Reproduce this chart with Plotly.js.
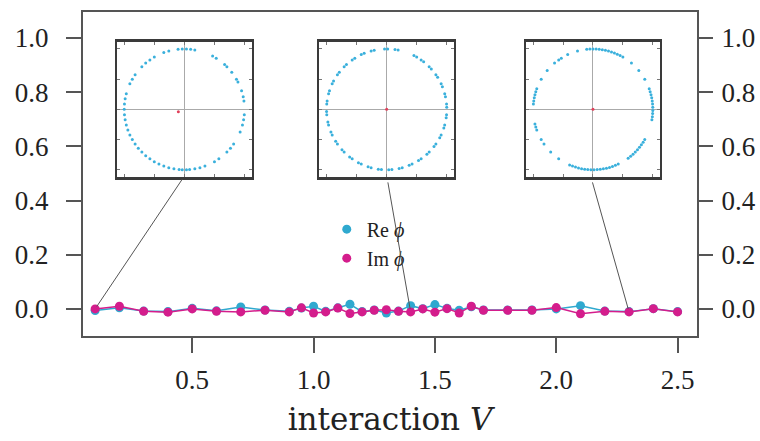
<!DOCTYPE html>
<html>
<head>
<meta charset="utf-8">
<script src="https://cdn.plot.ly/plotly-3.0.1.min.js"></script>
<style>html,body{margin:0;padding:0;background:#fff;}#chart{width:760px;height:441px;}</style>
</head>
<body>
<div id="chart"></div>
<script>
// ---- main series ----
const interactionV = [0.1,0.2,0.3,0.4,0.5,0.6,0.7,0.8,0.9,0.95,1.0,1.05,1.1,1.15,1.2,1.25,1.3,1.35,1.4,1.45,1.5,1.55,1.6,1.65,1.7,1.8,1.9,2.0,2.1,2.2,2.3,2.4,2.5];
const rePhi = [-0.006,0.004,-0.008,-0.010,0.002,-0.007,0.007,-0.004,-0.009,0.003,0.010,-0.009,0.004,0.017,-0.010,-0.004,-0.015,-0.008,0.012,0.001,0.016,0.002,-0.005,0.008,-0.004,-0.004,-0.004,0.000,0.012,-0.008,-0.010,0.001,-0.010];
const imPhi = [0.000,0.010,-0.009,-0.012,0.000,-0.009,-0.011,-0.005,-0.011,0.004,-0.015,-0.011,0.003,-0.017,-0.011,-0.005,-0.003,-0.009,-0.011,0.000,-0.012,0.001,-0.015,0.010,-0.005,-0.005,-0.005,0.005,-0.018,-0.009,-0.011,0.001,-0.011];
const yTicks = [0.0,0.2,0.4,0.6,0.8,1.0];
const yTickText = ["0.0","0.2","0.4","0.6","0.8","1.0"];
const xTicks = [0.5,1.0,1.5,2.0,2.5];
const xTickText = ["0.5","1.0","1.5","2.0","2.5"];

// ---- insets: phase angles (degrees) of the order parameter, and the mean value ----
const insetV = [0.1, 1.4, 2.3];
const insetAngles1 = [96,92,88,84,80,62,58,48,45,38,30,27,18,12,8,-5,-10,-15,-22,-35,-40,-45,-55,-60,-70,-75,-80,-85,-88,-92,-95,-100,-105,-110,-115,-120,-125,-130,-135,-140,-145,-150,-155,-160,-165,-170,-175,180,175,170,165,155,150,145,135,130,125,120,110,105];
const insetAngles2 = [92,89,82,79,63,60,55,52,45,42,35,32,25,22,15,12,5,2,-5,-8,-15,-18,-25,-28,-35,-38,-45,-48,-55,-58,-65,-68,-75,-78,-85,-88,-95,-98,-105,-108,-115,-118,-125,-128,-135,-138,-145,-148,-155,-158,-165,-168,-175,-178,175,172,165,162,155,152,145,142,135,132,125,122,115,112,105,102];
const insetAngles3 = [96,93,90,87,84,81,78,75,72,69,66,63,60,50,40,30,20,17,14,11,8,5,2,-1,-4,-7,-10,-30,-33,-36,-39,-42,-45,-48,-51,-54,-65,-68,-71,-74,-77,-80,-83,-86,-89,-92,-95,-98,-101,-104,-107,-110,-113,-125,-135,-145,-150,-160,-163,-166,175,172,169,166,163,160,150,140,130,125,122,115,105];
const insetMeanRe = [-0.10, 0.0, 0.0];
const insetMeanIm = [-0.04, 0.0, 0.0];

const cyan = '#2fa9cf';
const magenta = '#d41d8c';
const frame = '#555555';
const serif = 'Liberation Serif, Times New Roman, serif';
const wideSerif = 'DejaVu Serif, serif';

const deg = Math.PI/180;
const insetAngleSets = [insetAngles1, insetAngles2, insetAngles3];

const traces = [
  {x: interactionV, y: rePhi, mode: 'lines', line: {color: cyan, width: 1.5}, showlegend: false, hoverinfo: 'skip', xaxis: 'x', yaxis: 'y'},
  {x: interactionV, y: rePhi, mode: 'markers', marker: {color: cyan, size: 9}, name: 'Re <i>ϕ</i>', xaxis: 'x', yaxis: 'y'},
  {x: interactionV, y: imPhi, mode: 'lines', line: {color: magenta, width: 1.5}, showlegend: false, hoverinfo: 'skip', xaxis: 'x', yaxis: 'y'},
  {x: interactionV, y: imPhi, mode: 'markers', marker: {color: magenta, size: 9}, name: 'Im <i>ϕ</i>', xaxis: 'x', yaxis: 'y'},
  // invisible copy so the right-hand axis is drawn
  {x: interactionV, y: imPhi, mode: 'markers', marker: {opacity: 0}, showlegend: false, hoverinfo: 'skip', xaxis: 'x', yaxis: 'y2'}
];

insetAngleSets.forEach((angs, i) => {
  const n = i + 3;
  traces.push({
    x: angs.map(a => Math.cos(a*deg)), y: angs.map(a => Math.sin(a*deg)),
    mode: 'markers', marker: {color: '#3ab0dc', size: 3}, showlegend: false,
    xaxis: 'x' + n, yaxis: 'y' + n
  });
  traces.push({
    x: [insetMeanRe[i]], y: [insetMeanIm[i]], mode: 'markers',
    marker: {color: '#e0405a', size: 3}, showlegend: false,
    xaxis: 'x' + n, yaxis: 'y' + n
  });
});

const tickFont = {family: serif, size: 27, color: '#222'};

const layout = {
  width: 760, height: 441,
  margin: {l: 83, r: 63, t: 12, b: 105},
  paper_bgcolor: '#ffffff', plot_bgcolor: '#ffffff',
  font: {family: serif, color: '#222'},
  showlegend: true,
  legend: {x: 0.397, y: 0.39, xanchor: 'left', yanchor: 'top', bgcolor: 'rgba(0,0,0,0)',
           font: {family: serif, size: 20, color: '#222'}, itemwidth: 30},
  xaxis: {
    range: [0.05, 2.58], showgrid: false, zeroline: false,
    showline: true, mirror: true, linecolor: frame, linewidth: 2,
    ticks: 'outside', ticklen: 15, tickwidth: 2, tickcolor: frame, ticklabelstandoff: 4,
    tickvals: xTicks, ticktext: xTickText, tickfont: tickFont,
    title: {text: 'interaction <i>V</i>', font: {family: wideSerif, size: 31, color: '#222'}, standoff: 14}
  },
  yaxis: {
    range: [-0.1, 1.096], showgrid: false, zeroline: false,
    showline: true, mirror: true, linecolor: frame, linewidth: 2,
    ticks: 'outside', ticklen: 15, tickwidth: 2, tickcolor: frame, ticklabelstandoff: 12,
    tickvals: yTicks, ticktext: yTickText, tickfont: tickFont
  },
  yaxis2: {
    overlaying: 'y', side: 'right', anchor: 'x',
    range: [-0.1, 1.096], showgrid: false, zeroline: false, showline: false,
    ticks: 'outside', ticklen: 15, tickwidth: 2, tickcolor: frame, ticklabelstandoff: 3,
    tickvals: yTicks, ticktext: yTickText, tickfont: tickFont
  },
  annotations: []
};

const insetDomainsX = [[0.0554, 0.2748], [0.3849, 0.6042], [0.7215, 0.9397]];
const insetDomainY = [0.4907, 0.9083];
insetDomainsX.forEach((dx, i) => {
  const n = i + 3;
  const common = {
    range: [-1.12, 1.12], showgrid: false, zeroline: true, zerolinecolor: '#aaaaaa', zerolinewidth: 1,
    showline: true, mirror: 'ticks', linecolor: '#3a3a3a', linewidth: 2.5,
    ticks: 'inside', ticklen: 3, tickwidth: 1, tickcolor: '#777', tickvals: [-1, -0.5, 0, 0.5, 1],
    showticklabels: false, fixedrange: true
  };
  layout['xaxis' + n] = Object.assign({}, common, {domain: dx, anchor: 'y' + n});
  layout['yaxis' + n] = Object.assign({}, common, {domain: insetDomainY, anchor: 'x' + n});
});

// connector lines from each inset to its data point
const connectorOffsets = [[88, -131], [-23, -131], [-37, -131]];
insetV.forEach((v, i) => {
  const idx = interactionV.indexOf(v);
  layout.annotations.push({
    xref: 'x', yref: 'y', x: v, y: imPhi[idx], text: '',
    showarrow: true, arrowhead: 0, arrowwidth: 1, arrowcolor: '#555',
    ax: connectorOffsets[i][0], ay: connectorOffsets[i][1], standoff: 3
  });
});

Plotly.newPlot('chart', traces, layout, {displayModeBar: false, staticPlot: true});
</script>
</body>
</html>
